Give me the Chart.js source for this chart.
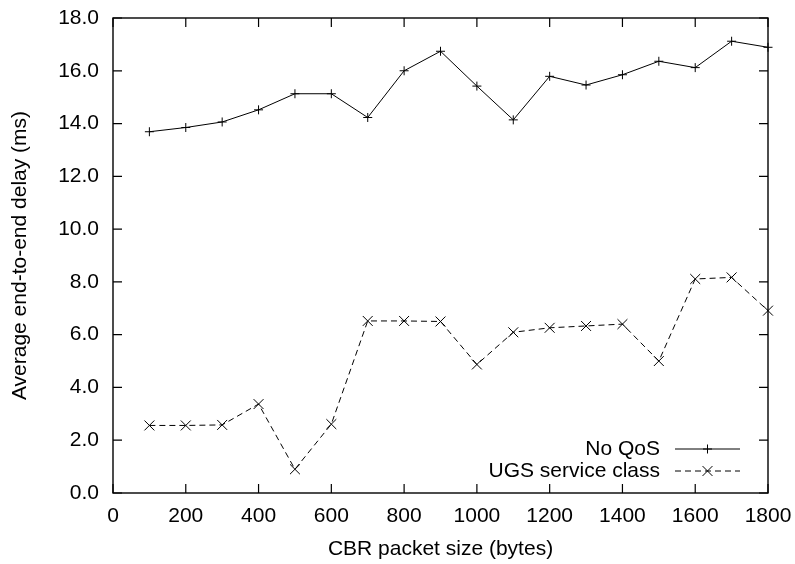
<!DOCTYPE html>
<html>
<head>
<meta charset="utf-8">
<script src="https://cdn.jsdelivr.net/npm/chart.js@4.4.1/dist/chart.umd.min.js"></script>
<style>
  html, body { margin: 0; padding: 0; background: #ffffff; }
  canvas { display: block; }
</style>
</head>
<body>
<canvas id="chart" width="795" height="564"></canvas>
<script>
// CBR packet size (bytes) for each measurement
const packetSizes = [100, 200, 300, 400, 500, 600, 700, 800, 900, 1000, 1100, 1200, 1300, 1400, 1500, 1600, 1700, 1800];
// Average end-to-end delay (ms)
const noQosDelay = [13.69, 13.85, 14.06, 14.52, 15.13, 15.13, 14.23, 16.00, 16.74, 15.42, 14.14, 15.79, 15.46, 15.85, 16.36, 16.12, 17.12, 16.89];
const ugsDelay   = [2.56, 2.56, 2.58, 3.37, 0.90, 2.61, 6.52, 6.52, 6.50, 4.87, 6.09, 6.26, 6.33, 6.40, 5.00, 8.11, 8.17, 6.91];
const seriesNames = ['No QoS', 'UGS service class'];
// Axis ticks
const xTicks = [0, 200, 400, 600, 800, 1000, 1200, 1400, 1600, 1800];
const yTicks = [0, 2, 4, 6, 8, 10, 12, 14, 16, 18];

const FONT = 'Liberation Sans, Arial, Helvetica, sans-serif';
const FONT_SIZE = 21;

const toPoints = (ys) => packetSizes.map((x, i) => ({ x: x, y: ys[i] }));

// Fixed axis box sizes; label overflow padding is handled by the layout padding
const fixBox = (size) => (s) => {
  if (s.isHorizontal()) s.height = size; else s.width = size;
  s.paddingTop = 0; s.paddingBottom = 0; s.paddingLeft = 0; s.paddingRight = 0;
};

// Frame with inward ticks on all four sides
const framePlugin = {
  id: 'frame',
  afterDatasetsDraw(chart) {
    const { ctx, chartArea: a, scales } = chart;
    const len = 9;
    ctx.save();
    ctx.strokeStyle = '#000';
    ctx.lineWidth = 1.4;
    ctx.strokeRect(a.left, a.top, a.right - a.left, a.bottom - a.top);
    ctx.lineWidth = 1.2;
    ctx.beginPath();
    scales.x.ticks.forEach(t => {
      const px = scales.x.getPixelForValue(t.value);
      ctx.moveTo(px, a.bottom); ctx.lineTo(px, a.bottom - len);
      ctx.moveTo(px, a.top); ctx.lineTo(px, a.top + len);
    });
    scales.y.ticks.forEach(t => {
      const py = scales.y.getPixelForValue(t.value);
      ctx.moveTo(a.left, py); ctx.lineTo(a.left + len, py);
      ctx.moveTo(a.right, py); ctx.lineTo(a.right - len, py);
    });
    ctx.stroke();
    ctx.restore();
  }
};

// Key in the lower right: label text, then line sample with its marker
const keyPlugin = {
  id: 'key',
  afterDraw(chart) {
    const { ctx } = chart;
    const textRight = 660, lineL = 675, lineR = 740, rowY = [449, 471];
    ctx.save();
    chart.data.datasets.forEach((ds, i) => {
      const y = rowY[i];
      ctx.font = FONT_SIZE + 'px ' + FONT;
      ctx.fillStyle = '#000';
      ctx.textAlign = 'right';
      ctx.textBaseline = 'middle';
      ctx.fillText(ds.label, textRight, y);
      ctx.strokeStyle = ds.borderColor;
      ctx.lineWidth = ds.borderWidth;
      ctx.setLineDash(ds.borderDash || []);
      ctx.beginPath();
      ctx.moveTo(lineL, y); ctx.lineTo(lineR, y);
      ctx.stroke();
      ctx.setLineDash([]);
      Chart.helpers.drawPoint(ctx, {
        pointStyle: ds.pointStyle, radius: ds.pointRadius, borderWidth: 1, rotation: 0
      }, (lineL + lineR) / 2, y);
    });
    ctx.restore();
  }
};

new Chart(document.getElementById('chart'), {
  type: 'line',
  data: {
    datasets: [
      {
        label: seriesNames[0],
        data: toPoints(noQosDelay),
        borderColor: '#000',
        borderWidth: 1,
        pointStyle: 'cross',
        pointRadius: 4.5,
        pointBorderColor: '#000',
        pointBorderWidth: 1,
        pointBackgroundColor: 'rgba(0,0,0,0)',
        tension: 0,
        fill: false,
        clip: 10
      },
      {
        label: seriesNames[1],
        data: toPoints(ugsDelay),
        borderColor: '#000',
        borderWidth: 1,
        borderDash: [6, 4],
        pointStyle: 'crossRot',
        pointRadius: 7,
        pointBorderColor: '#000',
        pointBorderWidth: 1,
        pointBackgroundColor: 'rgba(0,0,0,0)',
        tension: 0,
        fill: false,
        clip: 10
      }
    ]
  },
  options: {
    responsive: false,
    animation: false,
    devicePixelRatio: 1,
    layout: { padding: { left: 0, right: 27, top: 18, bottom: 0 } },
    plugins: {
      legend: { display: false },
      tooltip: { enabled: false }
    },
    scales: {
      x: {
        type: 'linear',
        min: 0,
        max: 1800,
        border: { display: false },
        grid: { display: false, drawTicks: false },
        afterBuildTicks: s => { s.ticks = xTicks.map(v => ({ value: v })); },
        afterFit: fixBox(71),
        ticks: {
          color: '#000',
          padding: 11,
          maxRotation: 0,
          autoSkip: false,
          font: { family: FONT, size: FONT_SIZE },
          callback: v => String(v)
        },
        title: {
          display: true,
          text: 'CBR packet size (bytes)',
          color: '#000',
          font: { family: FONT, size: FONT_SIZE },
          padding: { top: 0, bottom: 2 }
        }
      },
      y: {
        type: 'linear',
        min: 0,
        max: 18,
        border: { display: false },
        grid: { display: false, drawTicks: false },
        afterBuildTicks: s => { s.ticks = yTicks.map(v => ({ value: v })); },
        afterFit: fixBox(113),
        ticks: {
          color: '#000',
          padding: 14,
          autoSkip: false,
          font: { family: FONT, size: FONT_SIZE },
          callback: v => Number(v).toFixed(1)
        },
        title: {
          display: true,
          text: 'Average end-to-end delay (ms)',
          color: '#000',
          font: { family: FONT, size: FONT_SIZE },
          padding: { top: 8, bottom: 0 }
        }
      }
    }
  },
  plugins: [framePlugin, keyPlugin]
});
</script>
</body>
</html>
